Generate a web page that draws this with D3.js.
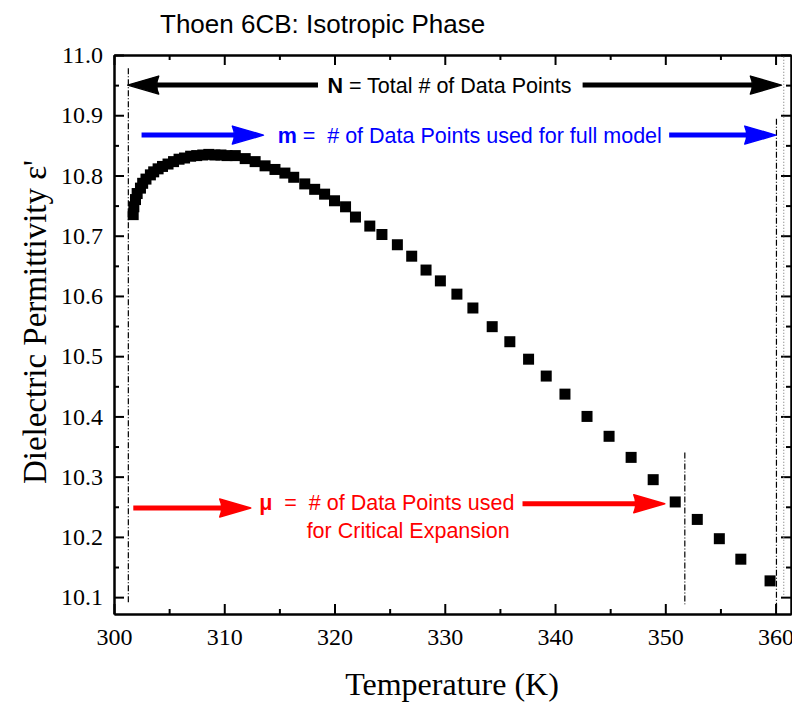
<!DOCTYPE html>
<html>
<head>
<meta charset="utf-8">
<script src="https://cdn.jsdelivr.net/npm/d3@7"></script>
<style>
  body { margin: 0; background: #fff; }
  svg { display: block; }
</style>
</head>
<body>
<div id="chart"></div>
<script>
// data
var temps = [301.74, 301.8, 301.95, 302.1, 302.4, 302.6, 302.9, 303.3, 303.6, 304.0,
  304.4, 304.9, 305.4, 305.9, 306.4, 306.95, 307.5, 308.05, 308.6, 309.15,
  309.7, 310.25, 311.0, 311.9, 312.8, 313.7, 314.6, 315.5, 316.3, 317.3,
  318.2, 319.1, 320.0, 321.0, 321.9, 323.2, 324.3, 325.7, 327.0, 328.3,
  329.6, 331.1, 332.55, 334.3, 335.9, 337.6, 339.2, 340.9, 342.9, 344.9,
  346.9, 348.9, 350.9, 352.9, 354.9, 356.85, 359.5];
var epsilon = [10.735, 10.748, 10.760, 10.770, 10.779, 10.787, 10.794, 10.801, 10.806, 10.811,
  10.815, 10.819, 10.823, 10.827, 10.829, 10.832, 10.833, 10.834, 10.835, 10.834,
  10.834, 10.833, 10.833, 10.828, 10.823, 10.816, 10.810, 10.804, 10.797, 10.786,
  10.777, 10.769, 10.758, 10.748, 10.731, 10.716, 10.702, 10.685, 10.666, 10.643,
  10.625, 10.603, 10.580, 10.549, 10.524, 10.495, 10.467, 10.437, 10.400, 10.367,
  10.332, 10.295, 10.258, 10.229, 10.197, 10.163, 10.127];

var xTicks = [300, 310, 320, 330, 340, 350, 360];
var xMinor = [305, 315, 325, 335, 345, 355];
var yTicks = [10.1, 10.2, 10.3, 10.4, 10.5, 10.6, 10.7, 10.8, 10.9, 11.0];
var yMinor = [10.15, 10.25, 10.35, 10.45, 10.55, 10.65, 10.75, 10.85, 10.95];

// vertical marker lines: [T, top value, bottom value]
var markers = [
  {t: 301.3, top: 10.978, bottom: 10.091, dash: "6,2,1,2", color: "#000"},
  {t: 351.77, top: 10.340, bottom: 10.088, dash: "6,2,1,2", color: "#000"},
  {t: 360.08, top: 10.894, bottom: 10.080, dash: "6,2,1,2", color: "#000"},
  {t: 360.74, top: 10.997, bottom: 10.101, dash: "1,2", color: "#888"}
];

// arrows: from, to (tip), level
var arrows = [
  {from: 318.5, to: 301.24, v: 10.950, color: "#000"},
  {from: 342.5, to: 360.53, v: 10.950, color: "#000"},
  {from: 302.5, to: 313.55, v: 10.867, color: "#0000ff"},
  {from: 350.35, to: 360.02, v: 10.867, color: "#0000ff"},
  {from: 301.75, to: 312.4, v: 10.248, color: "#ff0000"},
  {from: 337.05, to: 349.95, v: 10.255, color: "#ff0000"}
];

var W = 792, H = 702;
var x = d3.scaleLinear().domain([300, 361.4]).range([114, 791]);
var y = d3.scaleLinear().domain([10.072, 11.0]).range([614, 55]);

var svg = d3.select("#chart").append("svg")
  .attr("width", W).attr("height", H);

// title
svg.append("text")
  .attr("x", 160).attr("y", 33)
  .style("font-family", "Liberation Sans, Arial, sans-serif")
  .style("font-size", "26px")
  .text("Thoen 6CB: Isotropic Phase");

// axes, ticks inward
function styleAxis(g) {
  g.selectAll("path.domain").attr("stroke-width", 2);
  g.selectAll(".tick line").attr("stroke-width", 2);
  g.selectAll("text")
    .style("font-family", "Liberation Serif, Times New Roman, serif")
    .style("font-size", "24px")
    .attr("fill", "#000");
}

svg.append("g").attr("transform", "translate(0,614)")
  .call(d3.axisBottom(x).tickValues(xTicks).tickSize(-10).tickSizeOuter(0).tickPadding(14).tickFormat(d3.format("d")))
  .call(styleAxis);
svg.append("g").attr("transform", "translate(0,614)")
  .call(d3.axisBottom(x).tickValues(xMinor).tickSize(-5).tickSizeOuter(0).tickFormat(""))
  .call(styleAxis);
svg.append("g").attr("transform", "translate(0,55)")
  .call(d3.axisTop(x).tickValues(xTicks).tickSize(-10).tickSizeOuter(0).tickFormat(""))
  .call(styleAxis);
svg.append("g").attr("transform", "translate(0,55)")
  .call(d3.axisTop(x).tickValues(xMinor).tickSize(-5).tickSizeOuter(0).tickFormat(""))
  .call(styleAxis);

svg.append("g").attr("transform", "translate(114,0)")
  .call(d3.axisLeft(y).tickValues(yTicks).tickSize(-10).tickSizeOuter(0).tickPadding(11).tickFormat(d3.format(".1f")))
  .call(styleAxis);
svg.append("g").attr("transform", "translate(114,0)")
  .call(d3.axisLeft(y).tickValues(yMinor).tickSize(-5).tickSizeOuter(0).tickFormat(""))
  .call(styleAxis);
svg.append("g").attr("transform", "translate(791,0)")
  .call(d3.axisRight(y).tickValues(yTicks).tickSize(-10).tickSizeOuter(0).tickFormat(""))
  .call(styleAxis);
svg.append("g").attr("transform", "translate(791,0)")
  .call(d3.axisRight(y).tickValues(yMinor).tickSize(-5).tickSizeOuter(0).tickFormat(""))
  .call(styleAxis);

// axis titles
svg.append("text")
  .attr("x", 452).attr("y", 695)
  .attr("text-anchor", "middle")
  .style("font-family", "Liberation Serif, Times New Roman, serif")
  .style("font-size", "32px")
  .text("Temperature (K)");

svg.append("text")
  .attr("transform", "translate(46,322) rotate(-90)")
  .attr("text-anchor", "middle")
  .style("font-family", "Liberation Serif, Times New Roman, serif")
  .style("font-size", "33px")
  .text("Dielectric Permittivity \u03b5'");

// marker lines
svg.selectAll("line.marker")
  .data(markers)
  .enter().append("line")
  .attr("class", "marker")
  .attr("x1", function(d) { return x(d.t); })
  .attr("x2", function(d) { return x(d.t); })
  .attr("y1", function(d) { return y(d.top); })
  .attr("y2", function(d) { return y(d.bottom); })
  .attr("stroke", function(d) { return d.color; })
  .attr("stroke-width", 1.2)
  .attr("stroke-dasharray", function(d) { return d.dash; });

// data squares
var pts = temps.map(function(t, i) { return {t: t, v: epsilon[i]}; });
var sq = 11;
svg.selectAll("rect.pt")
  .data(pts)
  .enter().append("rect")
  .attr("class", "pt")
  .attr("x", function(d) { return x(d.t) - sq / 2; })
  .attr("y", function(d) { return y(d.v) - sq / 2; })
  .attr("width", sq)
  .attr("height", sq)
  .attr("fill", "#000");

// arrows
var headLen = 31, headHalf = 9;
arrows.forEach(function(a) {
  var x0 = x(a.from), x1 = x(a.to), yy = y(a.v);
  var dir = x1 > x0 ? 1 : -1;
  var base = x1 - dir * headLen;
  svg.append("line")
    .attr("x1", x0).attr("x2", base + dir * 2)
    .attr("y1", yy).attr("y2", yy)
    .attr("stroke", a.color)
    .attr("stroke-width", 5);
  svg.append("path")
    .attr("d", "M" + x1 + "," + yy + "L" + base + "," + (yy - headHalf) +
      "Q" + (base + dir * 4) + "," + yy + " " + base + "," + (yy + headHalf) + "Z")
    .attr("fill", a.color)
    .attr("stroke", a.color)
    .attr("stroke-width", 1.5)
    .attr("stroke-linejoin", "round");
});

// annotation texts
var sans = "Liberation Sans, Arial, sans-serif";
function note(tx, v, color, parts) {
  var t = svg.append("text")
    .attr("x", x(tx)).attr("y", y(v))
    .attr("dy", "0.35em")
    .attr("fill", color)
    .style("font-family", sans)
    .style("font-size", "21.5px")
    .attr("xml:space", "preserve")
    .style("white-space", "pre");
  parts.forEach(function(p) {
    t.append("tspan").style("font-weight", p[1] ? "bold" : "normal").text(p[0]);
  });
}
note(319.36, 10.950, "#000", [["N", true], [" = Total # of Data Points", false]]);
note(314.84, 10.867, "#0000ff", [["m", true], [" =  # of Data Points used for full model", false]]);
note(313.17, 10.257, "#ff0000", [["\u03bc", true], ["  =  # of Data Points used", false]]);
note(317.47, 10.211, "#ff0000", [["for Critical Expansion", false]]);
</script>
</body>
</html>
